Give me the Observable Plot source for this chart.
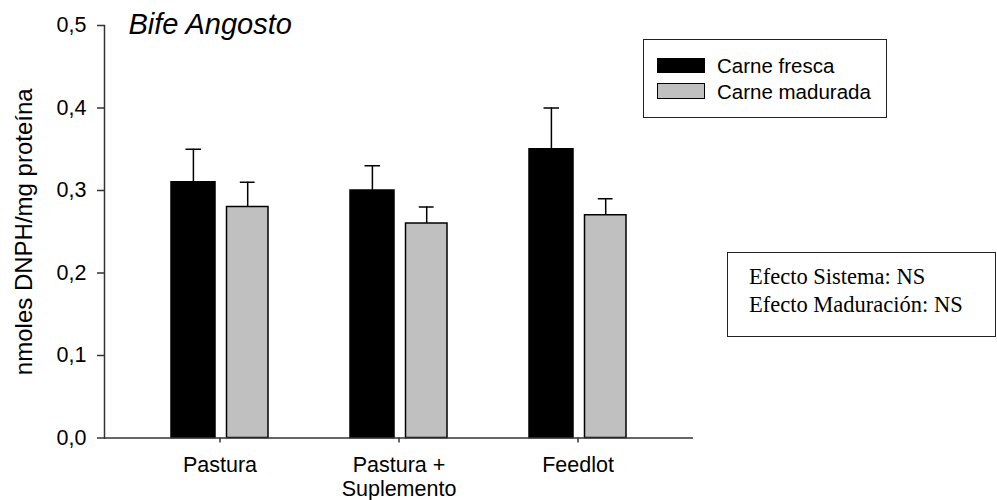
<!DOCTYPE html>
<html>
<head>
<meta charset="utf-8">
<script src="https://cdn.jsdelivr.net/npm/d3@7"></script>
<script src="https://cdn.jsdelivr.net/npm/@observablehq/plot@0.6"></script>
<style>
  body { margin: 0; background: #fff; }
  #wrap { position: relative; width: 997px; height: 500px; font-family: "Liberation Sans", Arial, sans-serif; }
  .abs { position: absolute; box-sizing: border-box; }
</style>
</head>
<body>
<div id="wrap"></div>
<script>
// ---- data ----
const systems = ["Pastura", "Pastura +\nSuplemento", "Feedlot"];
const fresca = [0.31, 0.30, 0.35];
const frescaErr = [0.04, 0.03, 0.05];
const madurada = [0.28, 0.26, 0.27];
const maduradaErr = [0.03, 0.02, 0.02];
const yTicks = [0, 0.1, 0.2, 0.3, 0.4, 0.5];
const seriesNames = ["Carne fresca", "Carne madurada"];
const seriesColors = ["#000000", "#c0c0c0"];
const chartTitle = "Bife Angosto";
const yLabel = "nmoles DNPH/mg proteína";
const statsLines = ["Efecto Sistema: NS", "Efecto Maduración: NS"];

const rows = systems.map((s, i) => ({
  system: s,
  fresca: fresca[i], frescaTop: fresca[i] + frescaErr[i],
  madurada: madurada[i], maduradaTop: madurada[i] + maduradaErr[i]
}));

const axisColor = "#333";

const chart = Plot.plot({
  width: 997,
  height: 500,
  marginTop: 25,
  marginBottom: 62.5,
  marginLeft: 104,
  marginRight: 304,
  style: { fontFamily: "'Liberation Sans', Arial, sans-serif", color: "#000", background: "#fff", overflow: "visible" },
  x: { domain: systems, paddingInner: 0.458, paddingOuter: 0.371 },
  y: { domain: [0, 0.5] },
  marks: [
    Plot.barY(rows, { x: "system", y: "fresca", fill: seriesColors[0], stroke: "#000", strokeWidth: 1.5, insetRight: 53 }),
    Plot.barY(rows, { x: "system", y: "madurada", fill: seriesColors[1], stroke: "#000", strokeWidth: 1.5, insetLeft: 55.5 }),
    Plot.ruleX(rows, { x: "system", y1: "fresca", y2: "frescaTop", dx: -26.6, stroke: "#000", strokeWidth: 1.5 }),
    Plot.tickY(rows, { x: "system", y: "frescaTop", insetLeft: 14.5, insetRight: 67, stroke: "#000", strokeWidth: 1.5 }),
    Plot.ruleX(rows, { x: "system", y1: "madurada", y2: "maduradaTop", dx: 27.7, stroke: "#000", strokeWidth: 1.5 }),
    Plot.tickY(rows, { x: "system", y: "maduradaTop", insetLeft: 68.8, insetRight: 13.4, stroke: "#000", strokeWidth: 1.5 }),
    Plot.frame({ anchor: "left", stroke: axisColor, strokeWidth: 1.5 }),
    Plot.ruleY([0], { stroke: axisColor, strokeWidth: 1.5 }),
    Plot.axisY({ ticks: yTicks, tickFormat: d => d.toFixed(1).replace(".", ","), tickSize: 7, tickPadding: 11, fontSize: 21.5, label: null, stroke: axisColor, strokeWidth: 1.5, fill: "#000" }),
    Plot.axisX({ tickSize: 5, tickPadding: 12.2, fontSize: 21.5, lineHeight: 1.12, label: null, stroke: axisColor, strokeWidth: 1.5, fill: "#000" }),
    Plot.text([chartTitle], { frameAnchor: "top-left", dx: 24, dy: 8.5, lineAnchor: "bottom", textAnchor: "start", fontSize: 29, fontStyle: "italic", fill: "#000" }),
    Plot.text([yLabel], { frameAnchor: "left", rotate: -90, dx: -73, lineAnchor: "bottom", textAnchor: "middle", fontSize: 24, fill: "#000" })
  ]
});

const wrap = document.getElementById("wrap");
wrap.appendChild(chart);

function addDiv(styleText, text) {
  const d = document.createElement("div");
  d.className = "abs";
  d.style.cssText = styleText;
  if (text != null) d.textContent = text;
  wrap.appendChild(d);
  return d;
}

// Legend box
addDiv("left:643px;top:39px;width:244px;height:79px;border:1.5px solid #222;");
const swatchTops = [58, 83];
const swatchHeights = [15, 16];
const textTops = [56, 82];
seriesNames.forEach((name, i) => {
  addDiv(`left:657px;top:${swatchTops[i]}px;width:48px;height:${swatchHeights[i]}px;background:${seriesColors[i]};border:1.5px solid #000;`);
  addDiv(`left:717px;top:${textTops[i]}px;font-size:20.5px;line-height:1;white-space:nowrap;color:#000;`, name);
});

// Stats box
addDiv("left:727px;top:252px;width:269px;height:85px;border:1.5px solid #222;");
const st = addDiv("left:749px;top:263.4px;font-family:'Liberation Serif','Times New Roman',serif;font-size:22.5px;line-height:28px;white-space:nowrap;color:#000;");
st.innerHTML = statsLines.join("<br>");
</script>
</body>
</html>
